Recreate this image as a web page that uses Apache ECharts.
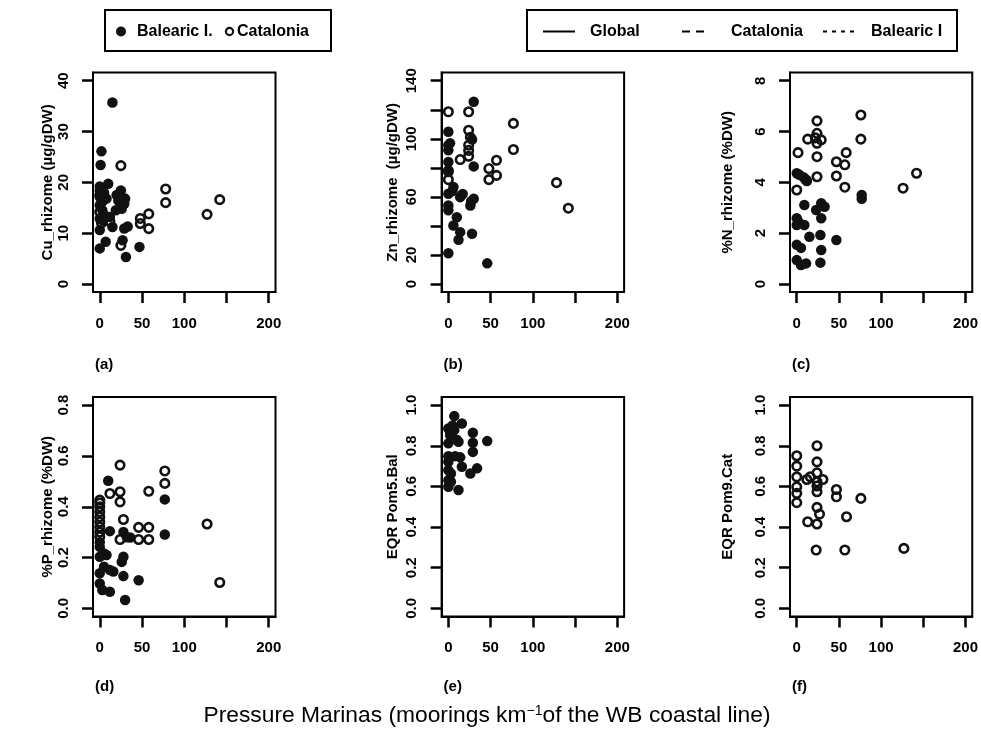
<!DOCTYPE html>
<html>
<head>
<meta charset="utf-8">
<script src="https://cdn.jsdelivr.net/npm/echarts@6/dist/echarts.min.js"></script>
<style>html,body{margin:0;padding:0;background:#fff}#c{width:981px;height:743px}</style>
</head>
<body>
<div id="c"></div>
<script>
// ---- data: [pressure (moorings/km), value] ----
var cuBal = [[15,35.7],[2,26.1],[1,23.4],[10,19.7],[0,18.4],[25,18.4],[5,18.0],[20,17.5],[0,17.1],[8,16.8],[29,15.8],[30,16.8],[0,15.5],[3,14.5],[19,14.5],[12,13.2],[0,12.9],[4,12.5],[15,11.2],[0,10.6],[29,10.9],[33,11.3],[27,8.6],[7,8.3],[0,7.0],[47,7.3],[31,5.3],[3,16.2],[22,16.4],[26,14.8],[0,19.2],[6,13.5]];
var cuCat = [[25,23.3],[78,18.7],[78,16.0],[142,16.6],[127,13.7],[58,13.8],[48,12.9],[48,11.9],[58,10.9],[25,7.6],[0,14.2],[0,17.5],[2,12.0],[12,12.3],[25,15.2]];
var znBal = [[30,125.5],[0,104.8],[28,99.5],[0,95.6],[0,92.1],[0,84],[30,81],[0,77.1],[6,66.8],[14,59.8],[0,62.2],[30,58.7],[26,54.1],[0,54.1],[0,50.7],[10,46],[6,40.3],[28,34.6],[14,35.7],[12,30.4],[0,21.2],[46,14.2],[5,64],[17,62],[2,97],[27,57]];
var znCat = [[0,118.6],[24,118.6],[77,110.6],[24,105.9],[24,95.6],[24,92],[77,92.6],[24,88],[14,85.7],[57,85.2],[48,79.5],[57,74.8],[48,71.9],[0,71.9],[128,69.8],[142,52.2],[0,78],[26,101]];
var nBal = [[0,4.36],[8,4.2],[12,4.05],[3,4.3],[77,3.5],[77,3.35],[9,3.11],[29,3.18],[33,3.04],[23,2.91],[29,2.59],[0,2.59],[0,2.32],[9,2.32],[15,1.86],[28,1.93],[47,1.73],[0,1.54],[5,1.42],[29,1.34],[0,0.94],[11,0.81],[28,0.84],[5,0.75],[2,2.45]];
var nCat = [[76,6.65],[24,6.42],[24,5.93],[13,5.7],[29,5.67],[24,5.54],[76,5.7],[1.5,5.17],[58.6,5.17],[24,5.01],[47,4.81],[57,4.69],[47,4.25],[24,4.22],[0,3.7],[57,3.81],[126,3.77],[142,4.36],[22,5.75],[11,4.1]];
var pBal = [[10,0.502],[77,0.429],[77,0.291],[12,0.304],[28,0.301],[36,0.279],[0,0.242],[5,0.216],[0,0.203],[28,0.203],[26,0.183],[5,0.164],[12,0.151],[0,0.138],[28,0.127],[46,0.111],[0,0.098],[3,0.072],[12,0.065],[30,0.033],[8,0.21],[16,0.145],[0,0.26],[32,0.28]];
var pCat = [[24,0.564],[77,0.541],[77,0.492],[12,0.452],[24,0.459],[58,0.461],[24,0.419],[0,0.426],[0,0.40],[0,0.38],[0,0.36],[0,0.34],[0,0.32],[0,0.30],[0,0.282],[28,0.35],[46,0.319],[58,0.319],[46,0.271],[58,0.271],[127,0.332],[24,0.271],[142,0.102],[0,0.415]];
var eqrBal = [[7,0.946],[16,0.91],[0,0.885],[7,0.877],[2,0.853],[29,0.864],[12,0.82],[29,0.815],[46,0.823],[0,0.812],[29,0.77],[0,0.749],[8,0.749],[14,0.743],[0,0.721],[16,0.697],[34,0.689],[26,0.664],[0,0.68],[3,0.664],[0,0.631],[3,0.623],[12,0.582],[0,0.598],[10,0.83],[5,0.9]];
var eqrCat = [[24,0.80],[0,0.751],[24,0.721],[0,0.70],[24,0.667],[16,0.647],[0,0.647],[12,0.634],[31,0.634],[24,0.623],[24,0.602],[0,0.598],[47,0.585],[24,0.574],[0,0.566],[47,0.549],[76,0.541],[0,0.52],[24,0.497],[27,0.464],[59,0.451],[13,0.426],[24,0.415],[23,0.287],[57,0.287],[127,0.295]];

var xTicks = [0,50,100,150,200];
var xLabels = [0,50,100,200];
var cuTicks = [0,10,20,30,40], cuLabels = [0,10,20,30,40];
var znTicks = [0,20,40,60,80,100,120,140], znLabels = [0,20,60,100,140];
var nTicks = [0,2,4,6,8], nLabels = [0,2,4,6,8];
var pTicks = [0,0.2,0.4,0.6,0.8], pLabels = [0,0.2,0.4,0.6,0.8];
var eqrTicks = [0,0.2,0.4,0.6,0.8,1.0], eqrLabels = [0,0.2,0.4,0.6,0.8,1.0];

var yTitles = ['Cu_rhizome (\u00b5g/gDW)','Zn_rhizome  (\u00b5g/gDW)','%N_rhizome (%DW)','%P_rhizome (%DW)','EQR Pom5.Bal','EQR Pom9.Cat'];
var panelTags = ['(a)','(b)','(c)','(d)','(e)','(f)'];
var xTitle = 'Pressure Marinas (moorings km';
var xTitleSup = '\u22121';
var xTitleEnd = 'of the WB coastal line)';
var legend1 = ['Balearic I.','Catalonia'];
var legend2 = ['Global','Catalonia','Balearic I'];

// ---- layout ----
var FONT = '"Liberation Sans", Arial, sans-serif';
var panels = [
  {left:93,  top:72.6, bal:cuBal, cat:cuCat, min:-1.6, max:41.6, ticks:cuTicks, labels:cuLabels, dec:0, gap:37},
  {left:441.6, top:72.6, bal:znBal, cat:znCat, min:-5.6, max:145.6, ticks:znTicks, labels:znLabels, dec:0, gap:41},
  {left:790, top:72.6, bal:nBal, cat:nCat, min:-0.32, max:8.32, ticks:nTicks, labels:nLabels, dec:0, gap:55},
  {left:93,  top:397, bal:pBal, cat:pCat, min:-0.032, max:0.832, ticks:pTicks, labels:pLabels, dec:1, gap:37},
  {left:441.6, top:397, bal:eqrBal, cat:null, min:-0.04, max:1.04, ticks:eqrTicks, labels:eqrLabels, dec:1, gap:41},
  {left:790, top:397, bal:null, cat:eqrCat, min:-0.04, max:1.04, ticks:eqrTicks, labels:eqrLabels, dec:1, gap:55}
];
var W = 182.5, H = 219.5;

var grids = [], xAxes = [], yAxes = [], series = [], graphics = [];
var lab = {color:'#000', fontFamily:FONT, fontWeight:'bold', fontSize:15};
panels.forEach(function(p, i){
  grids.push({left:p.left, top:p.top, width:W, height:H, show:true, borderColor:'#000', borderWidth:2, backgroundColor:'transparent'});
  xAxes.push({
    type:'value', gridIndex:i, min:-8, max:208,
    axisLine:{show:true, onZero:false, lineStyle:{color:'#000', width:2}},
    axisTick:{show:true, length:11, lineStyle:{color:'#000', width:2.5}, customValues:xTicks},
    axisLabel:Object.assign({margin:24, customValues:xLabels}, lab),
    splitLine:{show:false}
  });
  yAxes.push({
    type:'value', gridIndex:i, min:p.min, max:p.max,
    name:yTitles[i], nameLocation:'middle', nameGap:p.gap, nameRotate:90,
    nameTextStyle:{color:'#000', fontFamily:FONT, fontSize:15, fontWeight:'bold'},
    axisLine:{show:true, onZero:false, lineStyle:{color:'#000', width:2}},
    axisTick:{show:true, length:11, lineStyle:{color:'#000', width:2.5}, customValues:p.ticks},
    axisLabel:Object.assign({margin:22, rotate:90, customValues:p.labels,
      formatter:(function(d){return function(v){return Number(v).toFixed(d);};})(p.dec)}, lab),
    splitLine:{show:false}
  });
  if (p.bal) series.push({type:'scatter', xAxisIndex:i, yAxisIndex:i, data:p.bal, symbol:'circle', symbolSize:10.5,
    itemStyle:{color:'#111', opacity:1}, silent:true});
  if (p.cat) series.push({type:'scatter', xAxisIndex:i, yAxisIndex:i, data:p.cat, symbol:'circle', symbolSize:8.5,
    itemStyle:{color:'rgba(255,255,255,0)', borderColor:'#111', borderWidth:2.6, opacity:1}, silent:true});
  graphics.push({type:'text', left:p.left + 2, top:(i < 3 ? 357 : 679),
    style:{text:panelTags[i], fill:'#000', font:'bold 15px ' + FONT}});
});

// legends
var LF = 'bold 16px ' + FONT;
graphics.push({type:'rect', shape:{x:105, y:10, width:226, height:41}, style:{fill:'#fff', stroke:'#000', lineWidth:2}});
graphics.push({type:'circle', shape:{cx:121, cy:31.5, r:5}, style:{fill:'#111'}});
graphics.push({type:'text', x:137, y:31.5, style:{text:legend1[0], fill:'#000', font:LF, verticalAlign:'middle'}});
graphics.push({type:'circle', shape:{cx:229.5, cy:31.5, r:3.6}, style:{fill:'none', stroke:'#111', lineWidth:2.2}});
graphics.push({type:'text', x:237, y:31.5, style:{text:legend1[1], fill:'#000', font:LF, verticalAlign:'middle'}});

graphics.push({type:'rect', shape:{x:527, y:10, width:430, height:41}, style:{fill:'#fff', stroke:'#000', lineWidth:2}});
graphics.push({type:'line', shape:{x1:543, y1:31.5, x2:575, y2:31.5}, style:{stroke:'#000', lineWidth:2}});
graphics.push({type:'text', x:590, y:31.5, style:{text:legend2[0], fill:'#000', font:LF, verticalAlign:'middle'}});
graphics.push({type:'line', shape:{x1:682, y1:31.5, x2:704, y2:31.5}, style:{stroke:'#000', lineWidth:2, lineDash:[8,6]}});
graphics.push({type:'text', x:731, y:31.5, style:{text:legend2[1], fill:'#000', font:LF, verticalAlign:'middle'}});
graphics.push({type:'line', shape:{x1:823, y1:31.5, x2:854, y2:31.5}, style:{stroke:'#000', lineWidth:2, lineDash:[4,5]}});
graphics.push({type:'text', x:871, y:31.5, style:{text:legend2[2], fill:'#000', font:LF, verticalAlign:'middle'}});

// bottom title
graphics.push({type:'text', x:487, y:716, style:{
  text:'{a|' + xTitle + '}{s|' + xTitleSup + '}{a|' + xTitleEnd + '}',
  align:'center', verticalAlign:'middle',
  rich:{a:{fontFamily:FONT, fontSize:22.8, fill:'#000', color:'#000'}, s:{fontFamily:FONT, fontSize:14, fill:'#000', color:'#000', verticalAlign:'top', padding:[0,0,10,0]}}
}});

var chart = echarts.init(document.getElementById('c'), null, {renderer:'canvas'});
chart.setOption({
  backgroundColor:'#fff',
  animation:false,
  grid:grids, xAxis:xAxes, yAxis:yAxes, series:series,
  graphic:graphics
});
</script>
</body>
</html>
